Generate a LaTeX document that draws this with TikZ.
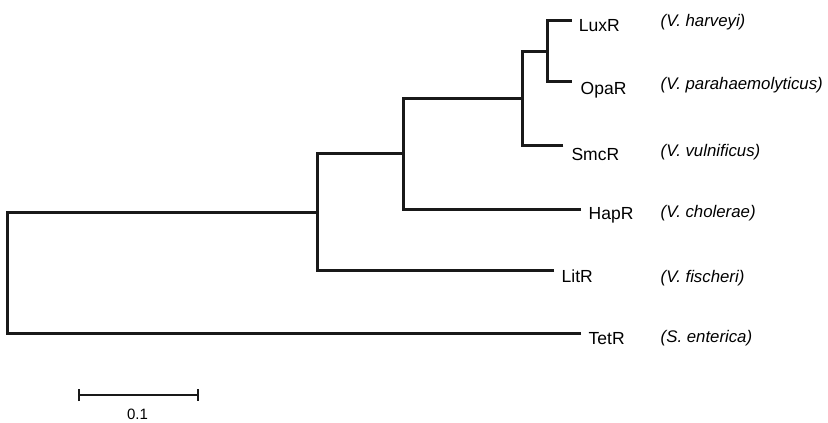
\documentclass[tikz,border=0pt]{standalone}
\usepackage{fontspec}
\setmainfont{Liberation Sans}
\usetikzlibrary{positioning, arrows.meta}

\begin{document}
\begin{tikzpicture}[x=1pt, y=-1pt,
branch/.style={line width=3pt, color=black!90},
gene/.style={inner sep=0pt, font=\fontsize{17.5}{20}\selectfont, text height=12.6pt, text depth=0pt},
species/.style={anchor=west, inner sep=0pt, font=\fontsize{16.8}{20}\selectfont\itshape, text height=12pt, text depth=0pt}]
\tikzstyle{scalebar}=[line width=2pt, color=black!90, {Bar[width=12pt]}-{Bar[width=12pt]}]

\useasboundingbox (0,0) rectangle (828,423);

%Tips
\coordinate (tlux) at (571.7,20);
\coordinate (topa) at (572,81.7);
\coordinate (tsmc) at (563.3,145.7);
\coordinate (thap) at (581,209.3);
\coordinate (tlit) at (554,270.7);
\coordinate (ttet) at (581,333.3);
%Joints
\coordinate (n4) at (547.7,51);
\coordinate (n3) at (522.7,98);
\coordinate (n2) at (403,153.5);
\coordinate (n1) at (317.5,212.7);
\coordinate (n0) at (7.5,273);

%Tree
\draw[branch] (tlux) -| (n4) |- (topa);
\draw[branch] (tsmc) -| (n3) |- (n4);
\draw[branch] (thap) -| (n2) |- (n3);
\draw[branch] (tlit) -| (n1) |- (n2);
\draw[branch] (ttet) -| (n0) |- (n1);

%Proteins
\node[gene, right=7pt of tlux, yshift=-5pt] (luxr) {LuxR};
\node[gene, right=8.5pt of topa, yshift=-6.3pt] (opar) {OpaR};
\node[gene, right=8pt of tsmc, yshift=-8pt] (smcr) {SmcR};
\node[gene, right=7.5pt of thap, yshift=-4pt] (hapr) {HapR};
\node[gene, right=7.5pt of tlit, yshift=-5.3pt] (litr) {LitR};
\node[gene, right=7.5pt of ttet, yshift=-4.7pt] (tetr) {TetR};

%Species
\node[species] (harveyi) at (660.5,20.7) {(V. harveyi)};
\node[species] (parahaem) at (660.5,83) {(V. parahaemolyticus)};
\node[species] (vulnif) at (660.5,150) {(V. vulnificus)};
\node[species] (cholerae) at (660.5,211.7) {(V. cholerae)};
\node[species] (fischeri) at (660.5,276) {(V. fischeri)};
\node[species] (enterica) at (660.5,336.7) {(S. enterica)};

%Scale
\coordinate (sbl) at (77.7,395);
\coordinate (sbr) at (198.7,395);
\draw[scalebar] (sbl) -- (sbr);
\node[inner sep=0pt, font=\fontsize{15}{17}\selectfont] (sblab) at (137.5,414.5) {0.1};
\end{tikzpicture}
\end{document}
